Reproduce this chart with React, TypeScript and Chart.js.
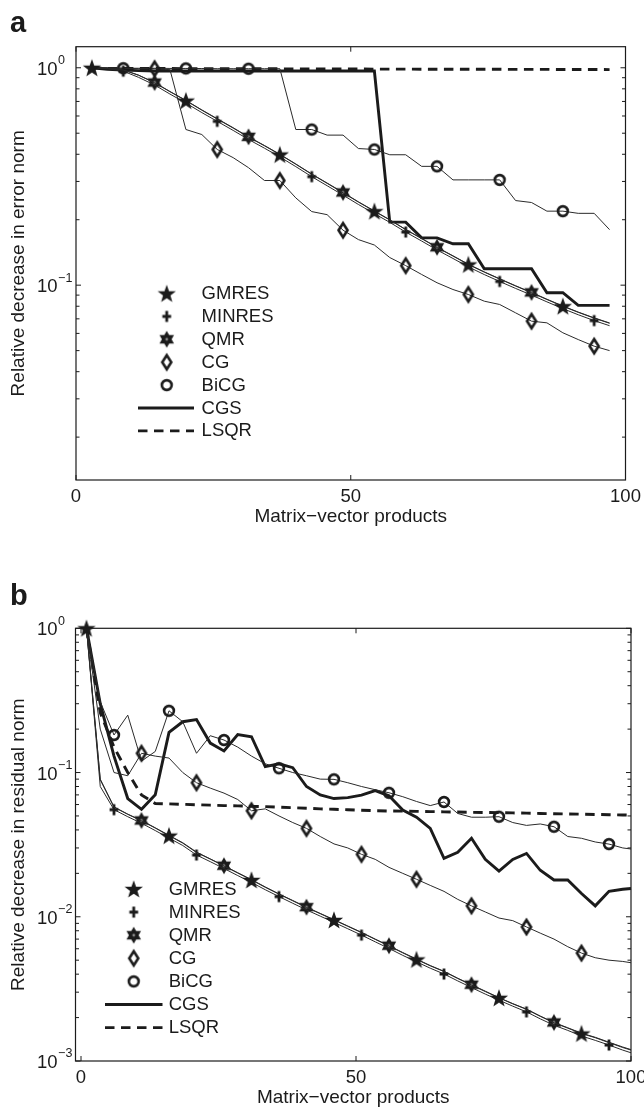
import React, { useEffect, useRef } from "react";
import { Chart, registerables } from "chart.js";

Chart.register(...registerables);

const FONT = '"Liberation Sans", Arial, Helvetica, sans-serif';
const INK = "#1b1b1b";

// ---------------- Panel a : error norm ----------------
const xA = [2.9, 5.7, 8.6, 11.4, 14.3, 17.1, 20.0, 22.9, 25.7, 28.6, 31.4, 34.3, 37.1, 40.0, 42.9, 45.7, 48.6, 51.4, 54.3, 57.1, 60.0, 62.9, 65.7, 68.6, 71.4, 74.3, 77.1, 80.0, 82.9, 85.7, 88.6, 91.4, 94.3, 97.1];
const gmresA = [1.0, 0.995, 0.977, 0.923, 0.853, 0.776, 0.706, 0.638, 0.581, 0.528, 0.48, 0.4375, 0.399, 0.36, 0.3236, 0.294, 0.266, 0.241, 0.2188, 0.1995, 0.18, 0.1637, 0.149, 0.1361, 0.1245, 0.1148, 0.1067, 0.0991, 0.0923, 0.0859, 0.08, 0.075, 0.0705, 0.0668];
const minresA = [1.0, 0.99, 0.965, 0.903, 0.833, 0.757, 0.688, 0.622, 0.567, 0.515, 0.468, 0.4266, 0.389, 0.351, 0.3155, 0.2867, 0.2594, 0.235, 0.2133, 0.1945, 0.1755, 0.1596, 0.1453, 0.1327, 0.1214, 0.1119, 0.104, 0.0966, 0.09, 0.0838, 0.078, 0.0731, 0.0687, 0.0651];
const qmrA = [1.0, 0.996, 0.979, 0.925, 0.855, 0.778, 0.708, 0.64, 0.583, 0.53, 0.481, 0.439, 0.4, 0.361, 0.3245, 0.295, 0.267, 0.2417, 0.2195, 0.2, 0.1805, 0.1642, 0.1494, 0.1365, 0.1249, 0.1151, 0.107, 0.0994, 0.0926, 0.0862, 0.0802, 0.0752, 0.0707, 0.067];
const cgA = [1.0, 0.998, 0.995, 0.99, 0.99, 0.98, 0.52, 0.493, 0.421, 0.386, 0.347, 0.303, 0.303, 0.252, 0.218, 0.211, 0.179, 0.162, 0.153, 0.134, 0.123, 0.112, 0.1026, 0.0955, 0.0906, 0.0844, 0.0815, 0.0746, 0.0683, 0.0671, 0.0604, 0.0562, 0.0524, 0.05];
const bicgA = [1.0, 0.998, 0.995, 0.995, 0.995, 0.993, 0.993, 0.992, 0.99, 0.99, 0.99, 0.99, 0.99, 0.52, 0.52, 0.49, 0.49, 0.425, 0.421, 0.398, 0.398, 0.352, 0.352, 0.305, 0.305, 0.305, 0.305, 0.245, 0.24, 0.219, 0.219, 0.214, 0.214, 0.18];
const cgsA = [1.0, 0.985, 0.975, 0.97, 0.967, 0.966, 0.966, 0.966, 0.966, 0.966, 0.966, 0.966, 0.966, 0.966, 0.966, 0.966, 0.966, 0.966, 0.966, 0.195, 0.195, 0.165, 0.165, 0.155, 0.155, 0.119, 0.119, 0.119, 0.119, 0.0923, 0.0923, 0.0807, 0.0807, 0.0807];
const lsqrA = [1.0, 0.994, 0.993, 0.993, 0.992, 0.992, 0.991, 0.991, 0.99, 0.99, 0.989, 0.989, 0.989, 0.988, 0.988, 0.987, 0.987, 0.987, 0.986, 0.986, 0.986, 0.985, 0.985, 0.985, 0.984, 0.984, 0.984, 0.983, 0.983, 0.983, 0.982, 0.982, 0.982, 0.981];
const markA = {
  gmres: [0, 6, 12, 18, 24, 30],
  minres: [2, 8, 14, 20, 26, 32],
  qmr: [4, 10, 16, 22, 28],
  cg: [4, 8, 12, 16, 20, 24, 28, 32],
  bicg: [2, 6, 10, 14, 18, 22, 26, 30],
};

// ---------------- Panel b : residual norm ----------------
const xB = [1, 3.5, 6, 8.5, 11, 13.5, 16, 18.5, 21, 23.5, 26, 28.5, 31, 33.5, 36, 38.5, 41, 43.5, 46, 48.5, 51, 53.5, 56, 58.5, 61, 63.5, 66, 68.5, 71, 73.5, 76, 78.5, 81, 83.5, 86, 88.5, 91, 93.5, 96, 98.5, 100];
const gmresB = [1.0, 0.089, 0.0575, 0.0513, 0.0463, 0.0412, 0.0365, 0.0324, 0.0279, 0.0251, 0.0225, 0.0201, 0.018, 0.016, 0.01435, 0.0129, 0.0116, 0.0105, 0.0095, 0.00859, 0.00776, 0.00697, 0.00627, 0.00562, 0.00506, 0.00457, 0.00417, 0.00373, 0.00336, 0.00303, 0.00274, 0.00249, 0.00228, 0.00204, 0.00184, 0.00169, 0.00155, 0.00145, 0.00134, 0.00124, 0.00119];
const minresB = [1.0, 0.08, 0.0553, 0.0494, 0.0445, 0.0396, 0.0351, 0.0312, 0.0268, 0.0241, 0.0216, 0.0193, 0.0173, 0.0154, 0.0138, 0.0124, 0.01116, 0.0101, 0.00914, 0.00826, 0.00746, 0.0067, 0.00603, 0.0054, 0.00487, 0.0044, 0.00401, 0.00359, 0.00323, 0.00291, 0.00264, 0.0024, 0.00219, 0.00196, 0.00177, 0.00163, 0.00149, 0.00139, 0.00129, 0.00119, 0.00114];
const qmrB = [1.0, 0.09, 0.0578, 0.0515, 0.0465, 0.0414, 0.0367, 0.0326, 0.0281, 0.0252, 0.0226, 0.0202, 0.0181, 0.0161, 0.0144, 0.01297, 0.01166, 0.01055, 0.00955, 0.00863, 0.0078, 0.007, 0.0063, 0.00565, 0.00509, 0.00459, 0.00419, 0.00375, 0.00338, 0.00305, 0.00275, 0.0025, 0.00229, 0.00205, 0.00185, 0.0017, 0.00156, 0.00146, 0.00135, 0.00125, 0.0012];
const cgB = [1.0, 0.2, 0.1, 0.095, 0.136, 0.13, 0.126, 0.1, 0.085, 0.078, 0.072, 0.065, 0.0543, 0.056, 0.05, 0.045, 0.041, 0.036, 0.032, 0.03, 0.0271, 0.025, 0.022, 0.02, 0.0182, 0.0165, 0.015, 0.0132, 0.0119, 0.0108, 0.0098, 0.0094, 0.0085, 0.0077, 0.007, 0.0062, 0.0056, 0.0052, 0.005, 0.0049, 0.0048];
const bicgB = [1.0, 0.31, 0.182, 0.25, 0.12, 0.14, 0.268, 0.225, 0.136, 0.18, 0.168, 0.15, 0.13, 0.115, 0.107, 0.1, 0.095, 0.09, 0.0897, 0.085, 0.08, 0.076, 0.0724, 0.068, 0.063, 0.059, 0.0625, 0.052, 0.049, 0.049, 0.0494, 0.045, 0.043, 0.044, 0.0421, 0.036, 0.035, 0.033, 0.0319, 0.03, 0.0295];
const cgsB = [1.0, 0.3, 0.13, 0.066, 0.0556, 0.07, 0.19, 0.225, 0.233, 0.16, 0.141, 0.183, 0.177, 0.11, 0.115, 0.108, 0.08, 0.07, 0.066, 0.067, 0.0698, 0.075, 0.069, 0.055, 0.049, 0.041, 0.0254, 0.028, 0.035, 0.025, 0.0207, 0.025, 0.0275, 0.021, 0.018, 0.018, 0.0145, 0.0119, 0.015, 0.0155, 0.0157];
const lsqrB = [1.0, 0.26, 0.15, 0.1, 0.07, 0.061, 0.0606, 0.0602, 0.0598, 0.0594, 0.059, 0.0587, 0.0583, 0.058, 0.0575, 0.057, 0.0565, 0.056, 0.0556, 0.0552, 0.0548, 0.0544, 0.0541, 0.054, 0.0538, 0.0536, 0.0534, 0.0532, 0.053, 0.0528, 0.0527, 0.0525, 0.0523, 0.052, 0.0518, 0.0516, 0.0514, 0.0512, 0.051, 0.0508, 0.0507];
const markB = {
  gmres: [0, 6, 12, 18, 24, 30, 36],
  minres: [2, 8, 14, 20, 26, 32, 38],
  qmr: [4, 10, 16, 22, 28, 34],
  cg: [4, 8, 12, 16, 20, 24, 28, 32, 36],
  bicg: [2, 6, 10, 14, 18, 22, 26, 30, 34, 38],
};

// ---------------- axes / labels ----------------
const xTickValues = [0, 50, 100];
const yTickValuesA = [1, 0.1];
const yTickExpA = ["0", "\u22121"];
const yTickValuesB = [1, 0.1, 0.01, 0.001];
const yTickExpB = ["0", "\u22121", "\u22122", "\u22123"];
const xTitle = "Matrix\u2212vector products";
const yTitleA = "Relative decrease in error norm";
const yTitleB = "Relative decrease in residual norm";
const legendNames = ["GMRES", "MINRES", "QMR", "CG", "BiCG", "CGS", "LSQR"];
const legendKinds = ["star", "plus", "hex", "diamond", "circle", "solid", "dash"];

function makeMarker(kind: string): HTMLCanvasElement {
  const S = 24;
  const c = document.createElement("canvas");
  c.width = S;
  c.height = S;
  const g = c.getContext("2d")!;
  g.translate(S / 2, S / 2);
  g.fillStyle = INK;
  g.strokeStyle = INK;
  g.lineJoin = "miter";
  if (kind === "star") {
    g.beginPath();
    for (let i = 0; i < 10; i++) {
      const r = i % 2 === 0 ? 9.6 : 3.9;
      const a = -Math.PI / 2 + (i * Math.PI) / 5;
      const px = r * Math.cos(a);
      const py = r * Math.sin(a) + 0.8;
      if (i === 0) g.moveTo(px, py);
      else g.lineTo(px, py);
    }
    g.closePath();
    g.fill();
  } else if (kind === "plus") {
    g.lineWidth = 2.8;
    g.beginPath();
    g.moveTo(-4.4, 0);
    g.lineTo(4.4, 0);
    g.moveTo(0, -5.4);
    g.lineTo(0, 5.4);
    g.stroke();
  } else if (kind === "hex") {
    const R = 7.2;
    g.lineWidth = 1.2;
    for (const off of [-Math.PI / 2, Math.PI / 2]) {
      g.beginPath();
      for (let i = 0; i < 3; i++) {
        const a = off + (i * 2 * Math.PI) / 3;
        const px = R * Math.cos(a);
        const py = R * Math.sin(a);
        if (i === 0) g.moveTo(px, py);
        else g.lineTo(px, py);
      }
      g.closePath();
      g.fill();
      g.stroke();
    }
    g.fillStyle = "#8a8a8a";
    g.beginPath();
    g.arc(0, 0, 1.4, 0, Math.PI * 2);
    g.fill();
  } else if (kind === "diamond") {
    g.lineWidth = 2.6;
    g.beginPath();
    g.moveTo(0, -7);
    g.lineTo(4.5, 0);
    g.lineTo(0, 7);
    g.lineTo(-4.5, 0);
    g.closePath();
    g.stroke();
  } else if (kind === "circle") {
    g.lineWidth = 2.6;
    g.beginPath();
    g.arc(0, 0, 4.9, 0, Math.PI * 2);
    g.stroke();
  }
  return c;
}

type PanelCfg = {
  top: number;
  height: number;
  xMin: number;
  xMax: number;
  yMin: number;
  yMax: number;
  padTop: number;
  padRight: number;
  yAxisW: number;
  xAxisH: number;
  xTitlePad: number;
  yTitle: string;
  yTicks: number[];
  yExp: string[];
  legendTop: number;
  rowH: number;
  symX: number;
  textX: number;
  lineX0: number;
  lineX1: number;
  xs: number[];
  series: number[][];
  marks: { gmres: number[]; minres: number[]; qmr: number[]; cg: number[]; bicg: number[] };
};

const panelA: PanelCfg = {
  top: 0, height: 540, xMin: 0, xMax: 100, yMin: 0.0127, yMax: 1.25,
  padTop: 46.7, padRight: 18.5, yAxisW: 76, xAxisH: 60, xTitlePad: 12.2,
  yTitle: yTitleA, yTicks: yTickValuesA, yExp: yTickExpA,
  legendTop: 293.5, rowH: 22.9, symX: 166.7, textX: 201.6, lineX0: 138, lineX1: 194,
  xs: xA, series: [gmresA, minresA, qmrA, cgA, bicgA, cgsA, lsqrA], marks: markA,
};

const panelB: PanelCfg = {
  top: 560, height: 549, xMin: -1, xMax: 100, yMin: 0.001, yMax: 1,
  padTop: 68.3, padRight: 13, yAxisW: 75.5, xAxisH: 48, xTitlePad: 0,
  yTitle: yTitleB, yTicks: yTickValuesB, yExp: yTickExpB,
  legendTop: 329, rowH: 23.1, symX: 133.7, textX: 168.7, lineX0: 105, lineX1: 162.5,
  xs: xB, series: [gmresB, minresB, qmrB, cgB, bicgB, cgsB, lsqrB], marks: markB,
};

function Panel({ cfg }: { cfg: PanelCfg }) {
  const ref = useRef<HTMLCanvasElement>(null);
  useEffect(() => {
    const markers: Record<string, HTMLCanvasElement> = {
      star: makeMarker("star"),
      plus: makeMarker("plus"),
      hex: makeMarker("hex"),
      diamond: makeMarker("diamond"),
      circle: makeMarker("circle"),
    };
    const markIdx = [cfg.marks.gmres, cfg.marks.minres, cfg.marks.qmr, cfg.marks.cg, cfg.marks.bicg, [], []];
    const datasets = cfg.series.map((vals, si) => {
      const kind = legendKinds[si];
      const marker = markers[kind];
      const thick = kind === "solid" || kind === "dash";
      return {
        label: legendNames[si],
        data: cfg.xs.map((x, i) => ({ x, y: vals[i] })),
        borderColor: thick ? INK : "#2a2a2a",
        backgroundColor: INK,
        borderWidth: thick ? 2.9 : 1,
        borderDash: kind === "dash" ? [9.5, 6.5] : [],
        pointStyle: marker ? marker : false,
        pointRadius: cfg.xs.map((_, i) => (marker && markIdx[si].includes(i) ? 5 : 0)),
        pointBorderWidth: 0,
        pointHoverRadius: 0,
        tension: 0,
        fill: false,
        clip: false as any,
      };
    });

    const decor = {
      id: "decor",
      afterDraw(chart: any) {
        const { ctx, chartArea: ca, scales } = chart;
        const xs = scales.x;
        const ys = scales.y;
        ctx.save();
        ctx.strokeStyle = INK;
        ctx.lineWidth = 1.2;
        ctx.strokeRect(ca.left, ca.top, ca.right - ca.left, ca.bottom - ca.top);
        ctx.lineWidth = 1;
        const seg = (x0: number, y0: number, x1: number, y1: number) => {
          ctx.beginPath();
          ctx.moveTo(x0, y0);
          ctx.lineTo(x1, y1);
          ctx.stroke();
        };
        for (const v of xTickValues) {
          const px = xs.getPixelForValue(v);
          seg(px, ca.bottom, px, ca.bottom - 5);
          seg(px, ca.top, px, ca.top + 5);
        }
        const lo = Math.floor(Math.log10(cfg.yMin));
        const hi = Math.ceil(Math.log10(cfg.yMax));
        for (let d = lo; d <= hi; d++) {
          for (let m = 1; m <= 9; m++) {
            const v = m * Math.pow(10, d);
            if (v < cfg.yMin * 0.999 || v > cfg.yMax * 1.001) continue;
            const py = ys.getPixelForValue(v);
            const len = m === 1 ? 5 : 3.5;
            seg(ca.left, py, ca.left + len, py);
            seg(ca.right, py, ca.right - len, py);
          }
        }
        ctx.fillStyle = INK;
        ctx.textAlign = "left";
        ctx.textBaseline = "middle";
        cfg.yTicks.forEach((v, i) => {
          const py = ys.getPixelForValue(v);
          ctx.font = `18.5px ${FONT}`;
          ctx.fillText("10", 37, py + 2);
          const w = ctx.measureText("10").width;
          ctx.font = `12.5px ${FONT}`;
          ctx.fillText(cfg.yExp[i], 37 + w + 0.5, py - 7);
        });
        // legend
        legendNames.forEach((name, i) => {
          const y = cfg.legendTop + i * cfg.rowH;
          const kind = legendKinds[i];
          const mk = markers[kind];
          if (mk) {
            ctx.drawImage(mk, cfg.symX - mk.width / 2, y - mk.height / 2);
          } else {
            ctx.save();
            ctx.lineWidth = 2.9;
            ctx.setLineDash(kind === "dash" ? [9.5, 6.5] : []);
            seg(cfg.lineX0, y, cfg.lineX1, y);
            ctx.restore();
          }
          ctx.font = `18.5px ${FONT}`;
          ctx.fillStyle = INK;
          ctx.textAlign = "left";
          ctx.textBaseline = "middle";
          ctx.fillText(name, cfg.textX, y + 0.5);
        });
        ctx.restore();
      },
    };

    const chart = new Chart(ref.current!, {
      type: "line",
      data: { datasets: datasets as any },
      options: {
        responsive: false,
        animation: false,
        events: [],
        devicePixelRatio: 1,
        layout: { padding: { left: 0, top: cfg.padTop, right: cfg.padRight, bottom: 0 } },
        plugins: { legend: { display: false }, tooltip: { enabled: false } },
        scales: {
          x: {
            type: "linear",
            min: cfg.xMin,
            max: cfg.xMax,
            grid: { display: false, drawTicks: false },
            border: { display: false },
            ticks: { font: { size: 18.5, family: FONT }, color: INK, padding: 6, maxRotation: 0, autoSkip: false },
            afterBuildTicks: (s: any) => {
              s.ticks = xTickValues.map((v) => ({ value: v }));
            },
            afterFit: (s: any) => {
              s.height = cfg.xAxisH;
              s.paddingLeft = 0;
              s.paddingRight = 0;
            },
            title: {
              display: true,
              text: xTitle,
              color: INK,
              font: { size: 19, family: FONT },
              padding: { top: 0, bottom: cfg.xTitlePad },
            },
          },
          y: {
            type: "logarithmic",
            min: cfg.yMin,
            max: cfg.yMax,
            grid: { display: false, drawTicks: false },
            border: { display: false },
            ticks: { display: false },
            afterFit: (s: any) => {
              s.width = cfg.yAxisW;
              s.paddingTop = 0;
              s.paddingBottom = 0;
            },
            title: {
              display: true,
              text: cfg.yTitle,
              color: INK,
              font: { size: 19, family: FONT },
              padding: { top: 7, bottom: 0 },
            },
          },
        },
      } as any,
      plugins: [decor],
    });
    return () => chart.destroy();
  }, []);
  return (
    <canvas
      ref={ref}
      width={644}
      height={cfg.height}
      style={{ position: "absolute", left: 0, top: cfg.top, width: 644, height: cfg.height, display: "block" }}
    />
  );
}

const labelStyle: React.CSSProperties = {
  position: "absolute",
  left: 10,
  fontFamily: FONT,
  fontWeight: "bold",
  fontSize: 29,
  lineHeight: "30px",
  color: INK,
  margin: 0,
};

export default function App() {
  return (
    <div style={{ position: "absolute", left: 0, top: 0, width: 644, height: 1109, background: "#fff", overflow: "hidden" }}>
      <Panel cfg={panelA} />
      <Panel cfg={panelB} />
      <div style={{ ...labelStyle, top: 6.5 }}>a</div>
      <div style={{ ...labelStyle, top: 580 }}>b</div>
    </div>
  );
}
